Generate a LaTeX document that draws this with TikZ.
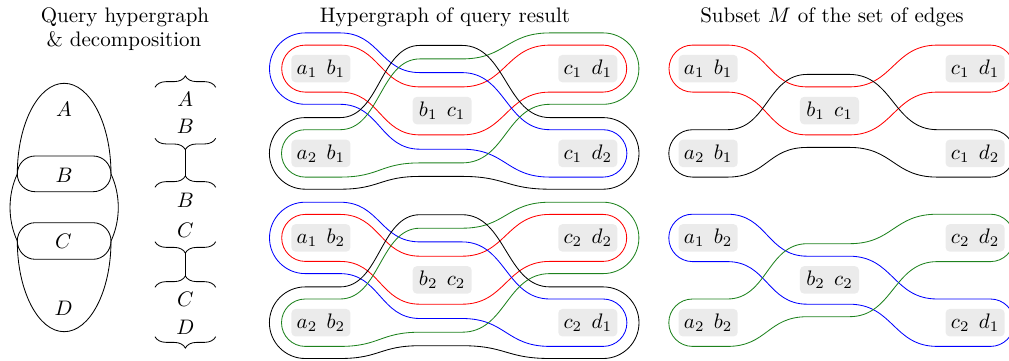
\documentclass[tikz,border=0pt]{standalone}
\usetikzlibrary{decorations.pathreplacing}
\definecolor{hgreen}{RGB}{30,130,30}
% outline of a hyperedge: colour, x-shift, left level, left pad, mid level, mid pad, right level, right pad
\newcommand{\hedge}[8]{%
 \pgfmathsetmacro\hxl{305.2+#2}\pgfmathsetmacro\hxr{603.2+#2}%
 \pgfmathsetmacro\haa{340+#2}\pgfmathsetmacro\hab{420+#2}%
 \pgfmathsetmacro\hba{462+#2}\pgfmathsetmacro\hbb{550+#2}%
 \pgfmathsetmacro\hLt{#3-#4}\pgfmathsetmacro\hLb{#3+#4}%
 \pgfmathsetmacro\hMt{#5-#6}\pgfmathsetmacro\hMb{#5+#6}%
 \pgfmathsetmacro\hRt{#7-#8}\pgfmathsetmacro\hRb{#7+#8}%
 \pgfmathsetmacro\hkL{0.5523*#4}\pgfmathsetmacro\hkR{0.5523*#8}%
 \draw[#1] (\hxl,\hLt) -- (\haa,\hLt) .. controls (\haa+40,\hLt) and (\hab-40,\hMt) .. (\hab,\hMt)
   -- (\hba,\hMt) .. controls (\hba+44,\hMt) and (\hbb-44,\hRt) .. (\hbb,\hRt) -- (\hxr,\hRt)
   .. controls (\hxr+\hkR,\hRt) and (\hxr+#8,#7-\hkR) .. (\hxr+#8,#7)
   .. controls (\hxr+#8,#7+\hkR) and (\hxr+\hkR,\hRb) .. (\hxr,\hRb)
   -- (\hbb,\hRb) .. controls (\hbb-44,\hRb) and (\hba+44,\hMb) .. (\hba,\hMb)
   -- (\hab,\hMb) .. controls (\hab-40,\hMb) and (\haa+40,\hLb) .. (\haa,\hLb) -- (\hxl,\hLb)
   .. controls (\hxl-\hkL,\hLb) and (\hxl-#4,#3+\hkL) .. (\hxl-#4,#3)
   .. controls (\hxl-#4,#3-\hkL) and (\hxl-\hkL,\hLt) .. (\hxl,\hLt) -- cycle;}
\begin{document}
\begin{tikzpicture}[x=0.476pt,y=-0.476pt,
  hv/.style={fill=black!8, rounded corners=2pt, minimum width=28.1pt, minimum height=13.1pt, inner sep=0pt},
  brc/.style={decorate, decoration={brace, amplitude=5.4pt}},
  lbl/.style={inner sep=0pt},
  ttl/.style={anchor=base, inner sep=0pt}]
\useasboundingbox (0,0) rectangle (1009,360);

% titles
\node[ttl] (t1) at (125,22) {Query hypergraph};
\node[ttl] (t2) at (124,46) {\& decomposition};
\node[ttl] (t3) at (445,22) {Hypergraph of query result};
\node[ttl] (t4) at (832,22) {Subset $M$ of the set of edges};

% query hypergraph
\draw (17.3,174) .. controls (17.3,123.9) and (38.3,83.3) .. (64.15,83.3)
  .. controls (90,83.3) and (111,123.9) .. (111,174)
  .. controls (111,183.9) and (103,191.7) .. (93.15,191.7) -- (35.15,191.7)
  .. controls (25.3,191.7) and (17.3,183.9) .. (17.3,174) -- cycle;
\draw (17.3,174) .. controls (17.3,164.1) and (25.3,156) .. (35.15,156) -- (93.15,156)
  .. controls (103,156) and (111,164.1) .. (111,174)
  .. controls (120.7,194.7) and (120.7,220.3) .. (111,241)
  .. controls (111,250.9) and (103,259.3) .. (93.15,259.3) -- (35.15,259.3)
  .. controls (25.3,259.3) and (17.3,250.9) .. (17.3,241)
  .. controls (7.6,220.3) and (7.6,194.7) .. (17.3,174) -- cycle;
\draw (17.3,241) .. controls (17.3,231.1) and (25.3,222.7) .. (35.15,222.7) -- (93.15,222.7)
  .. controls (103,222.7) and (111,231.1) .. (111,241)
  .. controls (111,291.1) and (90,331.7) .. (64.15,331.7)
  .. controls (38.3,331.7) and (17.3,291.1) .. (17.3,241) -- cycle;
\node[lbl] (qA) at (64,109.3) {$A$};
\node[lbl] (qB) at (64,175.5) {$B$};
\node[lbl] (qC) at (63.5,241.5) {$C$};
\node[lbl] (qD) at (63.5,308.3) {$D$};

% decomposition
\draw[brc] (155,87.3) -- (215.7,87.3);
\node[lbl] (d1a) at (185.3,99.3) {$A$};
\node[lbl] (d1b) at (185.3,126.7) {$B$};
\draw[brc] (215.7,138.3) -- (155,138.3);
\coordinate (u1) at (185.35,149.6);
\draw[brc] (155,187.3) -- (215.7,187.3);
\coordinate (o2) at (185.35,176);
\node[lbl] (d2a) at (185.3,200.7) {$B$};
\node[lbl] (d2b) at (185.3,230.7) {$C$};
\draw[brc] (215.7,241.7) -- (155,241.7);
\coordinate (u2) at (185.35,253);
\draw[brc] (155,287.3) -- (215.7,287.3);
\coordinate (o3) at (185.35,276);
\node[lbl] (d3a) at (185.3,299.3) {$C$};
\node[lbl] (d3b) at (185.3,327.3) {$D$};
\draw[brc] (215.7,336.7) -- (155,336.7);
\draw (u1) -- (o2);
\draw (u2) -- (o3);

% hypergraph of query result, top
\node[hv] (h1) at (320.9,68.6) {$a_1$\hspace{4.5pt}$b_1$};
\node[hv] (h2) at (442.2,110.6) {$b_1$\hspace{4.5pt}$c_1$};
\node[hv] (h3) at (587.8,68.6) {$c_1$\hspace{4.5pt}$d_1$};
\node[hv] (h4) at (320.9,153.4) {$a_2$\hspace{4.5pt}$b_1$};
\node[hv] (h5) at (587.8,153.4) {$c_1$\hspace{4.5pt}$d_2$};
\hedge{red}{0}{68.6}{23.5}{110.9}{24}{68.6}{23.5}
\hedge{blue}{0}{68.6}{35.7}{110.9}{38.3}{153.4}{23.7}
\hedge{hgreen}{0}{153.4}{23.7}{110.9}{52}{68.6}{35.7}
\hedge{black}{0}{153.4}{35.8}{110.9}{65.5}{153.4}{35.8}

% hypergraph of query result, bottom
\node[hv] (k1) at (320.9,237.9) {$a_1$\hspace{4.5pt}$b_2$};
\node[hv] (k2) at (442.2,279.9) {$b_2$\hspace{4.5pt}$c_2$};
\node[hv] (k3) at (587.8,237.9) {$c_2$\hspace{4.5pt}$d_2$};
\node[hv] (k4) at (320.9,322.7) {$a_2$\hspace{4.5pt}$b_2$};
\node[hv] (k5) at (587.8,322.7) {$c_2$\hspace{4.5pt}$d_1$};
\hedge{red}{0}{237.9}{23.5}{280.2}{24}{237.9}{23.5}
\hedge{blue}{0}{237.9}{35.7}{280.2}{38.3}{322.7}{23.7}
\hedge{hgreen}{0}{322.7}{23.7}{280.2}{52}{237.9}{35.7}
\hedge{black}{0}{322.7}{35.8}{280.2}{65.5}{322.7}{35.8}

% subset M, top
\node[hv] (m1) at (708.2,68.6) {$a_1$\hspace{4.5pt}$b_1$};
\node[hv] (m2) at (829.5,110.6) {$b_1$\hspace{4.5pt}$c_1$};
\node[hv] (m3) at (975.1,68.6) {$c_1$\hspace{4.5pt}$d_1$};
\node[hv] (m4) at (708.2,153.4) {$a_2$\hspace{4.5pt}$b_1$};
\node[hv] (m5) at (975.1,153.4) {$c_1$\hspace{4.5pt}$d_2$};
\hedge{red}{387.3}{68.6}{23.5}{110.9}{24}{68.6}{23.5}
\hedge{black}{387.3}{153.4}{23.7}{110.9}{36.5}{153.4}{23.7}

% subset M, bottom
\node[hv] (n1) at (708.2,237.9) {$a_1$\hspace{4.5pt}$b_2$};
\node[hv] (n2) at (829.5,279.9) {$b_2$\hspace{4.5pt}$c_2$};
\node[hv] (n3) at (975.1,237.9) {$c_2$\hspace{4.5pt}$d_2$};
\node[hv] (n4) at (708.2,322.7) {$a_2$\hspace{4.5pt}$b_2$};
\node[hv] (n5) at (975.1,322.7) {$c_2$\hspace{4.5pt}$d_1$};
\hedge{blue}{387.3}{237.9}{23.7}{280.2}{24}{322.7}{23.7}
\hedge{hgreen}{387.3}{322.7}{23.7}{280.2}{36.5}{237.9}{23.7}
\end{tikzpicture}
\end{document}
